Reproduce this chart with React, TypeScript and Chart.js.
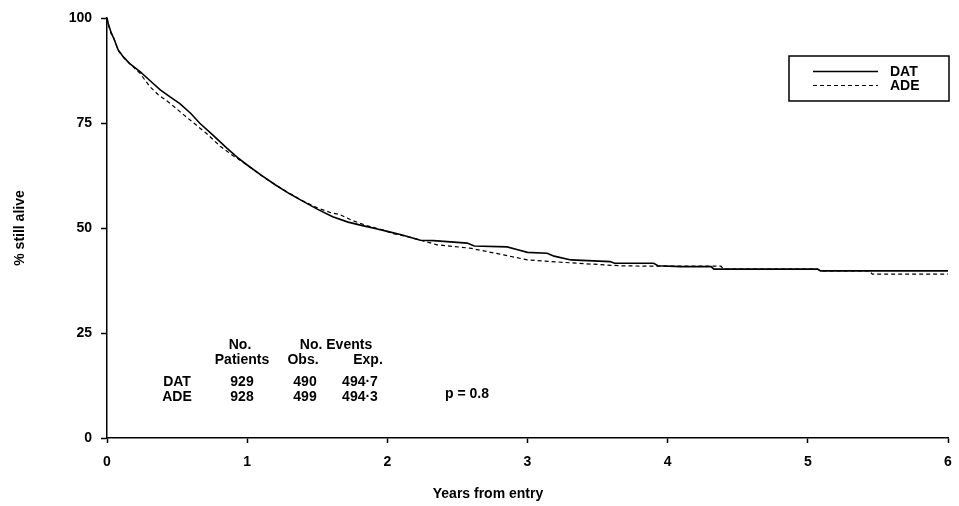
import React, { useEffect, useRef } from "react";
import { Chart, registerables } from "chart.js";

Chart.register(...registerables);

// Kaplan-Meier curves (years from entry, % still alive).
// Repeated times mark the vertical drop of a visible step.
const datTimes = [0, 0.01, 0.03, 0.05, 0.08, 0.11, 0.16, 0.24, 0.3, 0.38, 0.45, 0.52, 0.6, 0.66, 0.75, 0.855, 0.93, 1.0, 1.1, 1.2, 1.3, 1.38, 1.5, 1.61, 1.72, 1.83, 1.92, 2.0, 2.1, 2.236, 2.33, 2.57, 2.62, 2.855, 2.93, 3.0, 3.14, 3.19, 3.31, 3.59, 3.62, 3.9, 3.93, 4.09, 4.31, 4.33, 5.07, 5.09, 6.0];
const datSurv = [100, 98.5, 96.5, 95.0, 92.4, 91.0, 89.2, 87.1, 85.3, 82.9, 81.2, 79.6, 77.2, 75.0, 72.3, 69.0, 66.8, 65.0, 62.6, 60.3, 58.2, 56.7, 54.5, 52.7, 51.4, 50.5, 49.8, 49.2, 48.4, 47.1, 47.0, 46.4, 45.7, 45.5, 44.8, 44.2, 44.0, 43.3, 42.4, 42.0, 41.6, 41.6, 41.0, 40.8, 40.8, 40.2, 40.2, 39.8, 39.8];

const adeTimes = [0, 0.01, 0.03, 0.045, 0.08, 0.12, 0.18, 0.236, 0.307, 0.37, 0.45, 0.52, 0.593, 0.71, 0.81, 0.9, 1.0, 1.1, 1.2, 1.3, 1.4, 1.5, 1.6, 1.66, 1.75, 1.85, 1.96, 2.05, 2.15, 2.236, 2.355, 2.59, 2.83, 3.0, 3.31, 3.66, 3.9, 4.38, 4.4, 5.07, 5.09, 5.44, 5.46, 6.0];
const adeSurv = [100, 98.3, 96.2, 95.6, 92.2, 90.5, 88.6, 86.8, 83.6, 81.6, 79.7, 77.7, 75.7, 72.5, 69.4, 67.2, 65.0, 62.5, 60.3, 58.3, 56.4, 54.8, 53.6, 53.2, 51.8, 50.6, 49.6, 48.6, 47.9, 47.1, 46.0, 45.2, 43.6, 42.4, 41.7, 41.0, 40.9, 40.9, 40.2, 40.2, 39.8, 39.8, 39.0, 39.0];

const seriesNames = ["DAT", "ADE"];
const xTicks = [0, 1, 2, 3, 4, 5, 6];
const yTicks = [0, 25, 50, 75, 100];
const xTitle = "Years from entry";
const yTitle = "% still alive";

// Summary table
const headerRow1 = ["No.", "No. Events"];
const headerRow2 = ["Patients", "Obs.", "Exp."];
const tableRows = [
  ["DAT", "929", "490", "494·7"],
  ["ADE", "928", "499", "494·3"],
];
const pText = "p = 0.8";

const FONT = "'Liberation Sans', Arial, Helvetica, sans-serif";

const overlayPlugin = {
  id: "overlay",
  afterDraw(chart: any) {
    const ctx = chart.ctx;
    const a = chart.chartArea;
    ctx.save();
    ctx.fillStyle = "#000";
    ctx.strokeStyle = "#000";
    ctx.font = `bold 14px ${FONT}`;
    ctx.textBaseline = "middle";
    ctx.textAlign = "center";
    const L = a.left;
    const T = a.top;
    // table
    ctx.fillText(headerRow1[0], L + 133, T + 327);
    ctx.fillText(headerRow1[1], L + 229, T + 327);
    ctx.fillText(headerRow2[0], L + 135, T + 342);
    ctx.fillText(headerRow2[1], L + 196, T + 342);
    ctx.fillText(headerRow2[2], L + 261, T + 342);
    const colX = [70, 135, 198, 253];
    tableRows.forEach((row, ri) => {
      row.forEach((cell, ci) => {
        ctx.fillText(cell, L + colX[ci], T + 364 + ri * 15);
      });
    });
    ctx.fillText(pText, L + 360, T + 376);

    // x-axis title (placed left of centre, as in the original)
    ctx.fillText(xTitle, L + 381, a.bottom + 56);

    // legend
    const bx = a.right - 159;
    const by = T + 38;
    const bw = 160;
    const bh = 45;
    ctx.lineWidth = 1.5;
    ctx.strokeRect(bx, by, bw, bh);
    const dsets = chart.data.datasets;
    dsets.forEach((ds: any, i: number) => {
      const y = by + 15.5 + i * 14;
      ctx.beginPath();
      ctx.lineWidth = ds.borderWidth;
      ctx.setLineDash(ds.borderDash || []);
      ctx.moveTo(bx + 24, y);
      ctx.lineTo(bx + 89, y);
      ctx.stroke();
      ctx.setLineDash([]);
      ctx.textAlign = "left";
      ctx.fillText(ds.label, bx + 101, y + 0.5);
    });
    ctx.restore();
  },
};

export default function App() {
  const ref = useRef<HTMLCanvasElement | null>(null);
  useEffect(() => {
    if (!ref.current) return;
    const toPts = (t: number[], s: number[]) => t.map((x, i) => ({ x, y: s[i] }));
    const chart = new Chart(ref.current, {
      type: "line",
      data: {
        datasets: [
          {
            label: seriesNames[0],
            data: toPts(datTimes, datSurv),
            borderColor: "#000",
            borderWidth: 1.6,
            pointRadius: 0,
            tension: 0,
            fill: false,
          },
          {
            label: seriesNames[1],
            data: toPts(adeTimes, adeSurv),
            borderColor: "#000",
            borderWidth: 1.2,
            borderDash: [4, 3],
            pointRadius: 0,
            tension: 0,
            fill: false,
          },
        ],
      },
      options: {
        animation: false,
        responsive: false,
        maintainAspectRatio: false,
        layout: { padding: { top: 18, right: 11, left: 0, bottom: 0 } },
        plugins: { legend: { display: false }, tooltip: { enabled: false } },
        scales: {
          x: {
            type: "linear",
            min: 0,
            max: 6,
            afterBuildTicks: (s: any) => {
              s.ticks = xTicks.map((v) => ({ value: v }));
            },
            afterFit: (s: any) => {
              s.height = 68;
              s.paddingLeft = 0;
              s.paddingRight = 0;
            },
            grid: { drawOnChartArea: false, drawTicks: true, tickLength: 5, tickColor: "#000", tickWidth: 1.5 },
            border: { display: true, color: "#000", width: 1.5 },
            ticks: { color: "#000", font: { family: FONT, size: 14, weight: "bold" }, padding: 11, maxRotation: 0 },
            title: { display: false, text: xTitle },
          },
          y: {
            type: "linear",
            min: 0,
            max: 100,
            afterBuildTicks: (s: any) => {
              s.ticks = yTicks.map((v) => ({ value: v }));
            },
            afterFit: (s: any) => {
              s.width = 107;
              s.paddingTop = 0;
              s.paddingBottom = 0;
            },
            grid: { drawOnChartArea: false, drawTicks: true, tickLength: 6, tickColor: "#000", tickWidth: 1.5 },
            border: { display: true, color: "#000", width: 1.5 },
            ticks: { color: "#000", font: { family: FONT, size: 14, weight: "bold" }, padding: 9 },
            title: { display: true, text: yTitle, color: "#000", font: { family: FONT, size: 14, weight: "bold" }, padding: { top: 12, bottom: 0 } },
          },
        },
      },
      plugins: [overlayPlugin],
    } as any);
    return () => chart.destroy();
  }, []);
  return (
    <div style={{ position: "absolute", left: 0, top: 0, width: 959, height: 506, background: "#fff" }}>
      <canvas ref={ref} width={959} height={506} style={{ display: "block" }} />
    </div>
  );
}
